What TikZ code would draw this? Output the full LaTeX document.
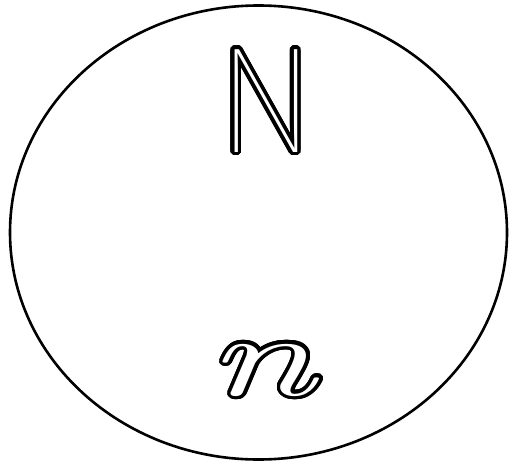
\documentclass[tikz,border=0pt]{standalone}
\usepackage{fontspec}
\usepackage{contour}
\usetikzlibrary{shapes.geometric}
\newfontfamily\letterfont{Fira Sans Thin}
\contourlength{3.5pt}
\contournumber{32}

\begin{document}
\begin{tikzpicture}[
  x=1pt,y=1pt,
  setline/.style={draw,ellipse,line width=2.6pt,minimum width=497pt,minimum height=454pt},
  hollow/.style={inner sep=0pt,anchor=base,text=white}
]
\useasboundingbox (0,0) rectangle (510,-465);
\node[setline] (universe) at (258.5,-232.5) {};
\node[hollow,font={\letterfont\fontsize{151}{151}\selectfont}] (bigN) at (266,-152) {\contour{black}{N}};
\node[hollow,font={\fontsize{116}{116}\selectfont\itshape}] (smalln) at (261,-395) {\contour{black}{\scalebox{1.7}[1]{n}}};
\end{tikzpicture}
\end{document}
